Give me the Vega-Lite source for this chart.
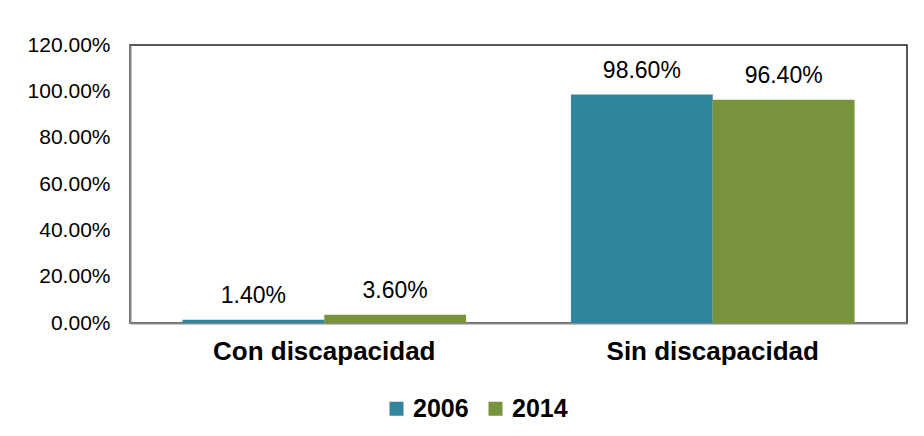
{
  "$schema": "https://vega.github.io/schema/vega-lite/v6.json",
  "width": 777,
  "height": 278,
  "autosize": {"type": "none"},
  "padding": {"left": 130, "top": 45, "right": 17, "bottom": 113},
  "background": "white",
  "data": {
    "values": [
      {"grupo": "Con discapacidad", "anio": "2006", "valor": 0.014},
      {"grupo": "Con discapacidad", "anio": "2014", "valor": 0.036},
      {"grupo": "Sin discapacidad", "anio": "2006", "valor": 0.986},
      {"grupo": "Sin discapacidad", "anio": "2014", "valor": 0.964}
    ]
  },
  "encoding": {
    "x": {
      "field": "grupo", "type": "nominal",
      "sort": ["Con discapacidad", "Sin discapacidad"],
      "scale": {"paddingInner": 0.27, "paddingOuter": 0.135},
      "axis": {
        "title": null, "labelAngle": 0, "labelFont": "Liberation Sans",
        "labelFontSize": 26, "labelFontWeight": "bold", "labelColor": "black", "labelLimit": 0,
        "ticks": false, "domainColor": "#888888", "domainWidth": 2, "labelPadding": 15, "grid": false
      }
    },
    "xOffset": {"field": "anio", "type": "nominal", "scale": {"paddingInner": 0, "paddingOuter": 0}},
    "y": {
      "field": "valor", "type": "quantitative",
      "scale": {"domain": [0, 1.2]},
      "axis": {
        "title": null, "values": [0, 0.2, 0.4, 0.6, 0.8, 1.0, 1.2], "format": ".2%",
        "labelFont": "Liberation Sans", "labelFontSize": 21, "labelColor": "black",
        "ticks": false, "grid": false, "domainColor": "#888888", "domainWidth": 2, "labelPadding": 20
      }
    }
  },
  "layer": [
    {
      "mark": {"type": "bar"},
      "encoding": {
        "color": {
          "field": "anio", "type": "nominal",
          "scale": {"domain": ["2006", "2014"], "range": ["#31859C", "#77933C"]},
          "legend": {
            "title": null, "orient": "none", "direction": "horizontal",
            "legendX": 254, "legendY": 351,
            "labelFont": "Liberation Sans", "labelFontSize": 25, "labelFontWeight": "bold", "labelColor": "black",
            "symbolType": "square", "symbolSize": 196, "symbolStrokeWidth": 0, "symbolOpacity": 1,
            "columnPadding": 14, "labelOffset": 4
          }
        }
      }
    },
    {
      "mark": {"type": "text", "baseline": "alphabetic", "dy": -17, "font": "Liberation Sans", "fontSize": 23, "color": "black"},
      "encoding": {
        "text": {"field": "valor", "type": "quantitative", "format": ".2%"}
      }
    }
  ],
  "config": {
    "view": {"stroke": "#222222", "strokeWidth": 1.5}
  }
}
